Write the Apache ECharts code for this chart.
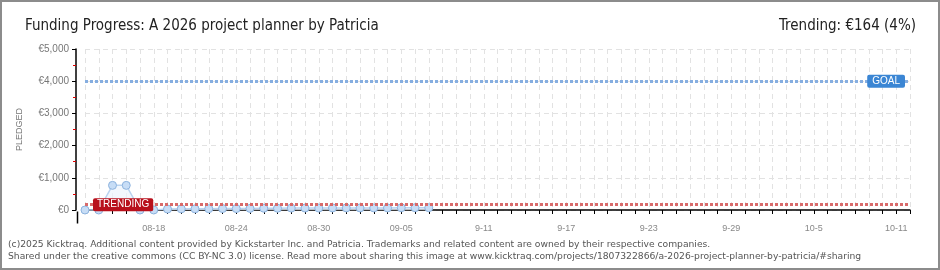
<!DOCTYPE html>
<html>
<head>
<meta charset="utf-8">
<script src="https://cdn.jsdelivr.net/npm/echarts@6/dist/echarts.min.js"></script>
<style>
html, body { margin: 0; padding: 0; background: #fff; }
#chart { width: 936px; height: 266px; border: 2px solid #8c8c8c; }
</style>
</head>
<body>
<div id="chart"></div>
<script>
// dates on the x axis (one per day)
var days = [
    '08-13', '08-14', '08-15', '08-16', '08-17', '08-18', '08-19', '08-20', '08-21', '08-22',
    '08-23', '08-24', '08-25', '08-26', '08-27', '08-28', '08-29', '08-30', '08-31', '09-01',
    '09-02', '09-03', '09-04', '09-05', '09-06', '09-07', '9-8', '9-9', '9-10', '9-11',
    '9-12', '9-13', '9-14', '9-15', '9-16', '9-17', '9-18', '9-19', '9-20', '9-21',
    '9-22', '9-23', '9-24', '9-25', '9-26', '9-27', '9-28', '9-29', '9-30', '10-1',
    '10-2', '10-3', '10-4', '10-5', '10-6', '10-7', '10-8', '10-9', '10-10', '10-11', '10-12'
];
// pledged per day
var pledged = [0, 0, 765, 765, 0, 0, 30, 35, 35, 40, 45, 45, 50, 55, 55, 60,
    60, 60, 65, 65, 65, 65, 65, 70, 70, 70];
var goal = 4000;
var trending = 164;

var myChart = echarts.init(document.getElementById('chart'));
var labelFont = 'Liberation Sans';

var option = {
    animation: false,
    backgroundColor: '#fff',
    title: [
        {
            text: 'Funding Progress: A 2026 project planner by Patricia',
            left: 18, top: 12,
            textStyle: { fontFamily: 'DejaVu Sans Condensed', fontSize: 15, fontWeight: 'normal', color: '#222' }
        },
        {
            text: 'Trending: €' + trending + ' (' + Math.round(trending / goal * 100) + '%)',
            right: 17, top: 12,
            textStyle: { fontFamily: 'DejaVu Sans Condensed', fontSize: 15, fontWeight: 'normal', color: '#222' }
        }
    ],
    grid: { left: 83, right: 28, top: 47, bottom: 58 },
    xAxis: {
        type: 'category',
        data: days,
        boundaryGap: false,
        offset: 11,
        axisLine: { lineStyle: { color: '#000', width: 1.5 } },
        axisTick: { show: true, interval: 0, length: 4, lineStyle: { color: '#000' } },
        axisLabel: {
            interval: function (i) { return i >= 5 && (i - 5) % 6 === 0; },
            margin: 3,
            color: '#888',
            fontFamily: labelFont,
            fontSize: 9
        },
        splitLine: { show: true, interval: 0, lineStyle: { color: '#e2e2e2', type: [5, 4] } }
    },
    yAxis: {
        type: 'value',
        min: 0,
        max: 5000,
        interval: 1000,
        offset: 9,
        name: 'PLEDGED',
        nameLocation: 'middle',
        nameGap: 52,
        nameTextStyle: { color: '#777', fontFamily: labelFont, fontSize: 9 },
        axisLine: { show: true, lineStyle: { color: '#000', width: 1.5 } },
        axisTick: { show: true, length: 4, lineStyle: { color: '#000' } },
        minorTick: { show: true, splitNumber: 2, length: 3, lineStyle: { color: '#e00000' } },
        axisLabel: {
            margin: 7,
            color: '#777',
            fontFamily: labelFont,
            fontSize: 10,
            formatter: function (v) { return '€' + v.toLocaleString('en-US'); }
        },
        splitLine: { show: true, lineStyle: { color: '#e2e2e2', type: [5, 4] } }
    },
    graphic: [
        {
            type: 'text', left: 6, top: 238,
            style: {
                text: '(c)2025 Kicktraq. Additional content provided by Kickstarter Inc. and Patricia. Trademarks and related content are owned by their respective companies.',
                fill: '#555', font: '9.2px "DejaVu Sans"'
            }
        },
        {
            type: 'text', left: 6, top: 250,
            style: {
                text: 'Shared under the creative commons (CC BY-NC 3.0) license. Read more about sharing this image at www.kicktraq.com/projects/1807322866/a-2026-project-planner-by-patricia/#sharing',
                fill: '#555', font: '9.2px "DejaVu Sans"'
            }
        },
        {
            // y axis line runs down to the offset x axis
            type: 'line', left: 73, top: 207,
            shape: { x1: 0, y1: 0, x2: 0, y2: 12 },
            style: { stroke: '#000', lineWidth: 1.5 }
        }
    ],
    series: [
        {
            type: 'line',
            data: pledged,
            symbol: 'circle',
            symbolSize: 8,
            lineStyle: { color: '#b9d3f0', width: 1.5 },
            itemStyle: { color: '#c7ddf6', borderColor: '#8db3de', borderWidth: 1 },
            areaStyle: { color: '#edf4fc' },
            z: 3,
            markLine: {
                silent: true,
                symbol: 'none',
                z: 5,
                data: [
                    {
                        yAxis: goal,
                        lineStyle: { color: '#86aee0', width: 3, type: [3, 2], opacity: 1 },
                        label: {
                            show: true, position: 'insideEnd', distance: 5,
                            formatter: 'GOAL', color: '#fff',
                            backgroundColor: '#3b86d4', borderRadius: 2,
                            padding: [2, 5, 1, 5], fontFamily: labelFont, fontSize: 10
                        }
                    },
                    {
                        yAxis: trending,
                        lineStyle: { color: '#d86a6a', width: 3, type: [3, 2], opacity: 1 },
                        label: {
                            show: true, position: 'insideStart', distance: 8,
                            formatter: 'TRENDING', color: '#fff',
                            backgroundColor: '#b8101c', borderRadius: 2,
                            padding: [2, 4, 1, 4], fontFamily: labelFont, fontSize: 10
                        }
                    }
                ]
            }
        }
    ]
};

myChart.setOption(option);
</script>
</body>
</html>
